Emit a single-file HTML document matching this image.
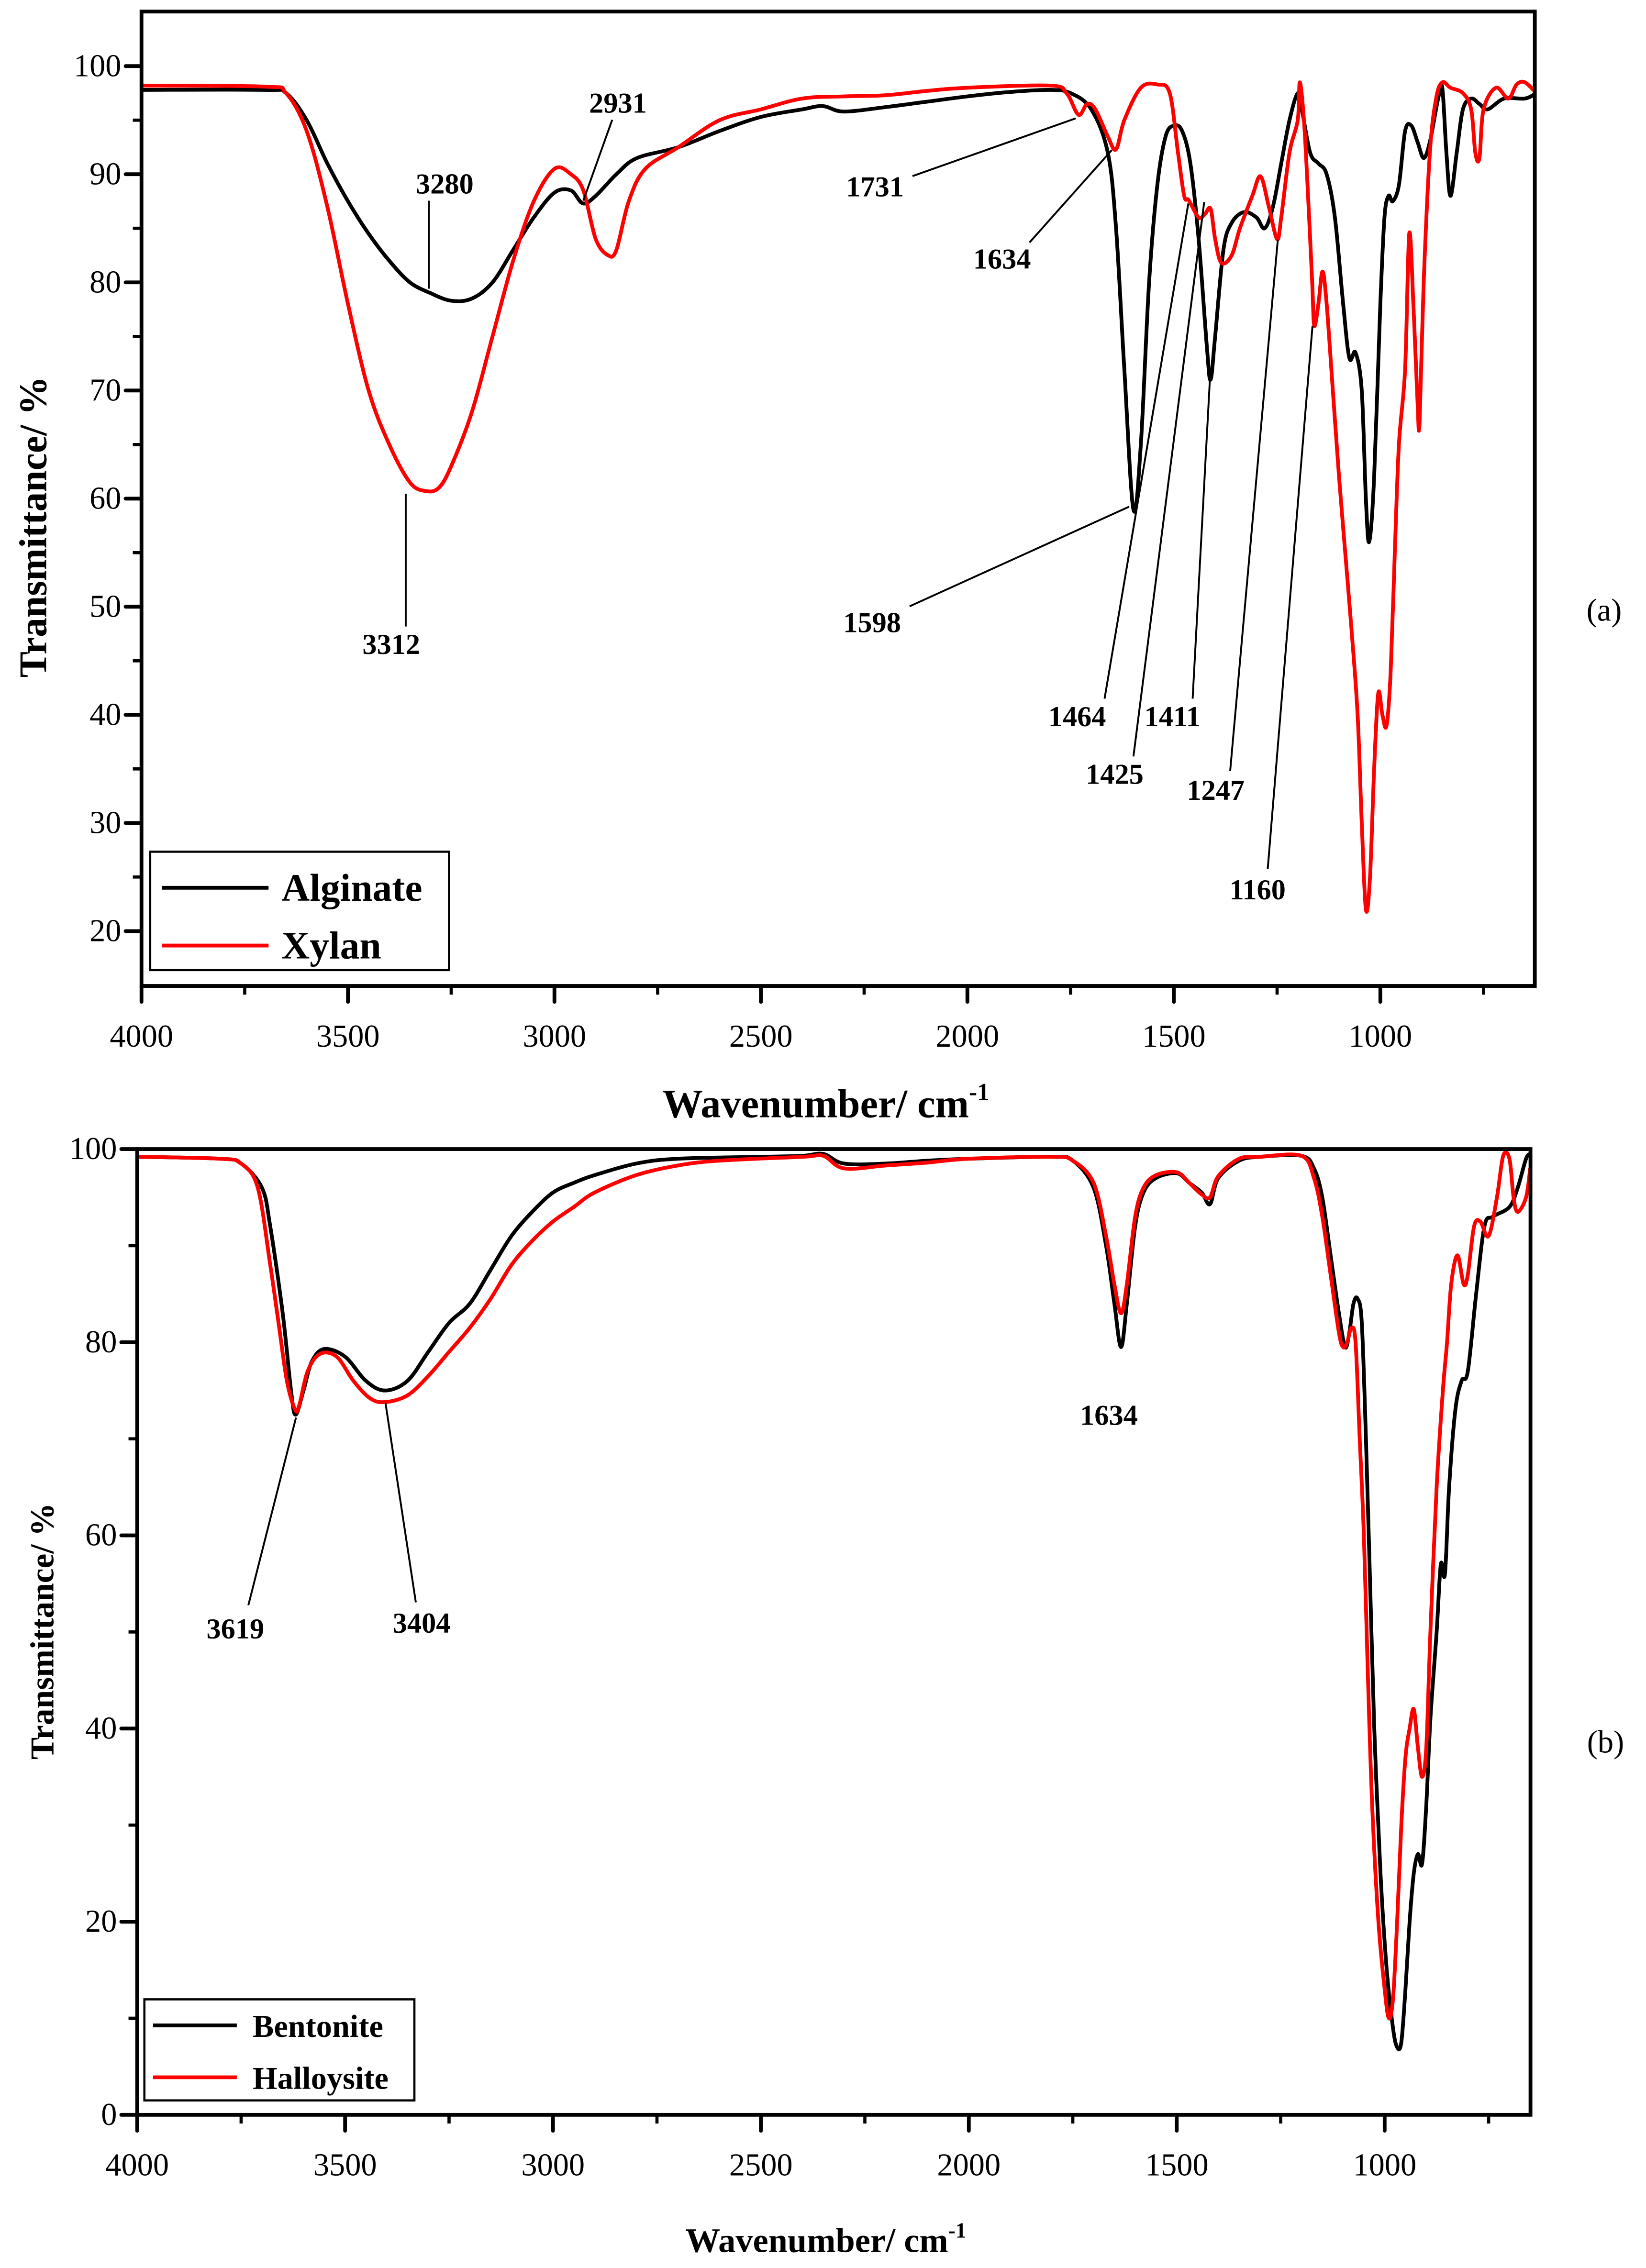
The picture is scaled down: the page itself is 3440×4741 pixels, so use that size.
<!DOCTYPE html>
<html><head><meta charset="utf-8"><style>
html,body{margin:0;padding:0;background:#fff;}
svg{display:block;font-family:"Liberation Serif","DejaVu Serif",serif;}
text{font-family:"Liberation Serif","DejaVu Serif",serif;fill:#000;}
</style></head><body>
<svg id="fig" width="3440" height="4741" viewBox="0 0 1140 1571.1" preserveAspectRatio="none" xmlns="http://www.w3.org/2000/svg" font-family="Liberation Serif, serif">
<g id="pa"></g>
<g id="pb"></g>
</svg>
<script>
// ---- Panel (a) data ----
const algWn = [4000,3700,3650,3600,3550,3500,3450,3400,3350,3300,3250,3200,3150,3100,3050,3000,2960,2931,2900,2850,2800,2700,2600,2500,2400,2350,2300,2200,2100,2000,1900,1800,1750,1700,1660,1640,1620,1598,1580,1560,1540,1520,1500,1480,1460,1440,1420,1411,1400,1380,1360,1330,1300,1280,1260,1240,1220,1200,1190,1170,1150,1130,1110,1090,1075,1060,1045,1035,1027,1015,1000,990,980,970,955,940,925,910,895,880,860,850,840,830,815,800,780,760,740,700,650,622];
const algT = [97.8,97.8,97.5,95,91,87.5,84.5,82,80,79,78.3,78.5,80,83,86,88.3,88.5,87.3,88,90,91.5,92.5,94,95.3,96,96.3,95.8,96.2,96.7,97.2,97.6,97.8,97.5,96,92,85,72,59,65,80,89,93.5,94.5,94,91,84,74,71,75,83,85.5,86.5,86,85,87,91,95,97.5,96,92,91,90,86,78,73,73.5,70,60,56,62,78,86,88,87.5,89,94,94.5,93,91.5,93,97,98,92,88,92,96,97,96.5,96,97,97,97.5];
const xylWn = [4000,3700,3650,3600,3550,3500,3450,3400,3350,3312,3280,3250,3200,3150,3100,3050,3000,2960,2930,2900,2870,2850,2820,2780,2700,2600,2500,2400,2300,2200,2100,2000,1800,1760,1731,1710,1690,1660,1640,1620,1580,1540,1510,1490,1475,1464,1440,1425,1411,1400,1385,1360,1340,1310,1290,1270,1250,1240,1220,1200,1195,1185,1175,1165,1160,1150,1140,1130,1115,1100,1085,1070,1055,1045,1035,1025,1015,1005,995,985,975,965,955,940,930,920,910,905,895,880,865,850,830,800,780,770,760,750,720,690,670,650,622];
const xylT = [98.2,98.1,97.5,94,87,78,70,65,61.5,60.7,61,63,68,75,82,87.5,90.5,90,88.5,84,82.5,83,87.5,90.5,92.5,95,96,97,97.2,97.3,97.7,98,98.2,97.5,95.5,96.5,96,93.5,92.3,95,98,98.3,97.5,92,88,87.6,86,86.3,86.8,84,81.8,82.5,85,88,89.8,87,84,86,92,95,98.5,95,88,80,76,78,81,78,70,62,55,48,40,30,22,25,35,42,40,39,44,55,65,72,84.5,78,69,67,80,92,97,98.5,98,97.5,96,92,91.5,96,98,97,98.3,98.5,97.5];
const aYTicks = [20,30,40,50,60,70,80,90,100];
const aXTicks = [4000,3500,3000,2500,2000,1500,1000];
// ---- Panel (b) data ----
const benWn = [4000,3800,3750,3700,3680,3650,3630,3619,3600,3580,3550,3500,3450,3404,3350,3300,3250,3200,3150,3100,3050,3000,2950,2900,2800,2700,2500,2400,2350,2300,2200,2100,2000,1800,1750,1700,1670,1650,1634,1620,1600,1580,1550,1500,1470,1440,1420,1400,1350,1300,1200,1170,1150,1130,1110,1095,1085,1075,1065,1055,1045,1035,1025,1010,995,980,970,960,950,940,930,920,910,900,890,875,865,855,845,830,815,800,780,760,740,700,680,660,650];
const benT = [99.2,99,98.5,96,92,83,75,72.5,75,78,79.3,78.5,76,75,76,79,82,84,87.5,91,93.5,95.5,96.5,97.3,98.5,99,99.2,99.3,99.5,98.5,98.5,98.8,99,99.2,98.8,96,90,84,79.5,84,92,95.5,97,97.5,96.5,95.5,94.3,97,98.8,99.2,99.3,98,95,89,83,79.5,81,84,84.5,82,70,55,40,25,15,9,7,7.5,13,20,25,27,26,32,41,50,57,56,65,73,76,77,85,92,93,94,96,99,99.5];
const halWn = [4000,3800,3750,3710,3680,3660,3640,3620,3610,3590,3560,3520,3480,3440,3404,3350,3300,3250,3200,3150,3100,3050,3000,2950,2900,2800,2700,2600,2400,2350,2300,2200,2100,2000,1800,1750,1700,1670,1650,1634,1620,1600,1580,1550,1500,1470,1440,1420,1400,1350,1300,1200,1170,1150,1130,1110,1100,1090,1080,1070,1060,1050,1040,1030,1015,1000,990,980,970,960,950,940,930,920,910,900,890,875,860,850,840,825,810,800,785,770,750,730,715,700,690,680,660,650];
const halT = [99.2,99,98.5,96,88,82,76,73,73.5,77,78.8,78.5,76,74.2,73.8,74.5,76.5,79,81.5,84.5,88,90.5,92.5,94,95.5,97.3,98.3,98.8,99.2,99.3,98,98.3,98.6,99,99.2,98.8,96.5,91,86,83,86,93,96,97.3,97.6,96.5,95.3,95,97.2,99,99.2,99.3,97,93,87,81,79.5,80,81.5,80,70,60,45,32,20,13,10,12,20,30,37,40,42,38,35,38,50,65,75,80,86,89,86,87,92,92.5,91,95,99.3,99,95,93.5,95,98];
const bYTicks = [0,20,40,60,80,100];
const bXTicks = [4000,3500,3000,2500,2000,1500,1000];

const NS = "http://www.w3.org/2000/svg";
function mk(parent, tag, attrs){ const e=document.createElementNS(NS,tag); for(const k in attrs) e.setAttribute(k,attrs[k]); parent.appendChild(e); return e; }

function smoothPath(pts){
  let d = "M"+pts[0][0].toFixed(2)+","+pts[0][1].toFixed(2);
  for(let i=0;i<pts.length-1;i++){
    const p0=pts[i-1]||pts[i], p1=pts[i], p2=pts[i+1], p3=pts[i+2]||p2;
    const c1x=p1[0]+(p2[0]-p0[0])/6, c1y=p1[1]+(p2[1]-p0[1])/6;
    const c2x=p2[0]-(p3[0]-p1[0])/6, c2y=p2[1]-(p3[1]-p1[1])/6;
    d+=" C"+c1x.toFixed(2)+","+c1y.toFixed(2)+" "+c2x.toFixed(2)+","+c2y.toFixed(2)+" "+p2[0].toFixed(2)+","+p2[1].toFixed(2);
  }
  return d;
}

function panel(g, cfg){
  const {L,R,T,B,w0,w1,yTicks,xTicks,yMinorStep,xMinorStep,series,fs} = cfg;
  const X = w => L + (w0-w)*(R-L)/(w0-w1);
  const Y = v => cfg.yAt(v);
  const clip = mk(g,'clipPath',{id:cfg.id+'clip'});
  mk(clip,'rect',{x:L,y:T,width:R-L,height:B-T});
  series.forEach(s=>{
    const pts = s.wn.map((w,i)=>[X(w),Y(s.t[i])]);
    const p = mk(g,'path',{d:smoothPath(pts),fill:'none',stroke:s.color,'stroke-width':2.6,'stroke-linejoin':'round','clip-path':'url(#'+cfg.id+'clip)'});
    
    
  });
  const fr = mk(g,'rect',{x:L,y:T,width:R-L,height:B-T,fill:'none',stroke:'#000','stroke-width':2.6});
  
  
  yTicks.forEach(v=>{
    const t = mk(g,'line',{x1:L-11,x2:L,y1:Y(v),y2:Y(v),stroke:'#000','stroke-width':2.6,'stroke-linecap':'round'});
    
    
    const tx = mk(g,'text',{x:L-14,y:Y(v)+7,'text-anchor':'end','font-size':fs,'font-family':'Liberation Serif, serif'});
    tx.textContent=v;
    
    
  });
  for(let v=yTicks[0]+yMinorStep; v<yTicks[yTicks.length-1]; v+=2*yMinorStep){
    const m = mk(g,'line',{x1:L-6,x2:L,y1:Y(v),y2:Y(v),stroke:'#000','stroke-width':2.2});
    
    
  }
  xTicks.forEach(w=>{
    const t = mk(g,'line',{x1:X(w),x2:X(w),y1:B,y2:B+11,stroke:'#000','stroke-width':2.6,'stroke-linecap':'round'});
    
    
    const tx = mk(g,'text',{x:X(w),y:B+42,'text-anchor':'middle','font-size':fs,'font-family':'Liberation Serif, serif'});
    tx.textContent=w;
    
    
  });
  for(let w=xTicks[0]-xMinorStep; w>w1; w-=2*xMinorStep){
    const m = mk(g,'line',{x1:X(w),x2:X(w),y1:B,y2:B+6,stroke:'#000','stroke-width':2.2});
    
    
  }
  return {X,Y};
}

function ann(g, txt, tx, ty, x1,y1,x2,y2){
  const l = mk(g,'line',{x1,y1,x2,y2,stroke:'#000','stroke-width':1.3});
  
  
  const t = mk(g,'text',{x:tx,y:ty,'text-anchor':'middle','font-size':20,'font-weight':'bold','font-family':'Liberation Serif, serif'});
  t.textContent = txt;
  
  
}
function txt(g,s,x,y,attrs,name){
  const t = mk(g,'text',Object.assign({x,y,'font-family':'Liberation Serif, serif'},attrs)); t.textContent=s;
  
  
  return t;
}

// ---- Panel a ----
const ga = document.getElementById('pa');
panel(ga,{id:'a',L:98,R:1063,T:8,B:683,w0:4000,w1:4000-965/0.286,yAt:v=>645-(v-20)*7.49,
  yTicks:aYTicks,xTicks:aXTicks,yMinorStep:5,xMinorStep:250,fs:22,
  series:[{wn:algWn,t:algT,color:'#000',name:'alginate-line'},{wn:xylWn,t:xylT,color:'#ff0000',name:'xylan-line'}]});
ann(ga,'3280',308,134,297,139,297,200);
ann(ga,'2931',428,78,424,83,404,139);
ann(ga,'1731',606,136,632,122,745,82);
ann(ga,'1634',694,186,713,168,770,104);
ann(ga,'1598',604,438,630,420,782,351);
ann(ga,'3312',271,453,281,434,281,342);
ann(ga,'1464',746,503,765,484,823,141);
ann(ga,'1425',772,543,785,524,834,140);
ann(ga,'1411',812,503,826,484,838,262);
ann(ga,'1247',842,554,852,534,885,166);
ann(ga,'1160',871,623,878,602,909,226);
txt(ga,'(a)',1111,430,{'font-size':22,'text-anchor':'middle'},'panel-a-label');
const lga = mk(ga,'g',{});


mk(lga,'rect',{x:104,y:590,width:207,height:82,fill:'#fff',stroke:'#000','stroke-width':1.5});
mk(lga,'line',{x1:112,x2:186,y1:615,y2:615,stroke:'#000','stroke-width':2.6});
mk(lga,'line',{x1:112,x2:186,y1:655,y2:655,stroke:'#ff0000','stroke-width':2.6});
txt(lga,'Alginate',195,624,{'font-size':27,'font-weight':'bold'},'legend-entry-alginate');
txt(lga,'Xylan',195,664,{'font-size':27,'font-weight':'bold'},'legend-entry-xylan');
const xa = txt(ga,'Wavenumber/ cm',572,774,{'font-size':28,'font-weight':'bold','text-anchor':'middle'},'x-axis-title-a');
const sa = mk(xa,'tspan',{dy:-12,'font-size':17}); sa.textContent='-1';
txt(ga,'Transmittance/ %',32,365,{'font-size':27,'font-weight':'bold','text-anchor':'middle',transform:'rotate(-90 32 365)'},'y-axis-title-a');

// ---- Panel b ----
const gb = document.getElementById('pb');
panel(gb,{id:'b',L:95,R:1060,T:796,B:1465,w0:4000,w1:4000-965/0.288,yAt:v=>1465-v*6.69,
  yTicks:bYTicks,xTicks:bXTicks,yMinorStep:10,xMinorStep:250,fs:22,
  series:[{wn:benWn,t:benT,color:'#000',name:'bentonite-line'},{wn:halWn,t:halT,color:'#ff0000',name:'halloysite-line'}]});
ann(gb,'3619',163,1135,172,1112,205,982);
ann(gb,'3404',292,1131,288,1110,267,972);
txt(gb,'1634',768,987,{'font-size':20,'font-weight':'bold','text-anchor':'middle'},'peak-label-1634-b');
txt(gb,'(b)',1112,1214,{'font-size':22,'text-anchor':'middle'},'panel-b-label');
const lgb = mk(gb,'g',{});


mk(lgb,'rect',{x:100,y:1385,width:187,height:70,fill:'#fff',stroke:'#000','stroke-width':1.5});
mk(lgb,'line',{x1:106,x2:164,y1:1403,y2:1403,stroke:'#000','stroke-width':2.6});
mk(lgb,'line',{x1:106,x2:164,y1:1439,y2:1439,stroke:'#ff0000','stroke-width':2.6});
txt(lgb,'Bentonite',175,1411,{'font-size':22,'font-weight':'bold'},'legend-entry-bentonite');
txt(lgb,'Halloysite',175,1447,{'font-size':22,'font-weight':'bold'},'legend-entry-halloysite');
const xb = txt(gb,'Wavenumber/ cm',572,1560,{'font-size':24,'font-weight':'bold','text-anchor':'middle'},'x-axis-title-b');
const sb = mk(xb,'tspan',{dy:-10,'font-size':15}); sb.textContent='-1';
txt(gb,'Transmittance/ %',37,1130,{'font-size':23,'font-weight':'bold','text-anchor':'middle',transform:'rotate(-90 37 1130)'},'y-axis-title-b');
</script>
</body></html>
